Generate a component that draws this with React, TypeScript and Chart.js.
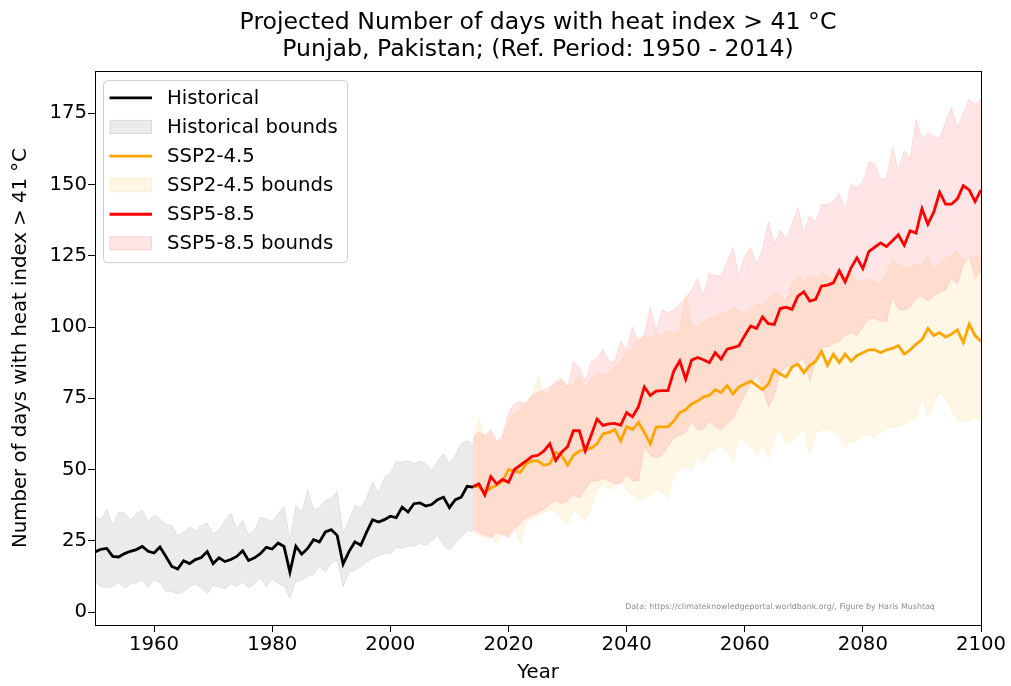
import React, { useEffect, useRef } from 'react';
import { Chart, registerables } from 'chart.js';

Chart.register(...registerables);

const FONT = '"DejaVu Sans", "Liberation Sans", sans-serif';

const TITLE = ['Projected Number of days with heat index > 41 °C', 'Punjab, Pakistan; (Ref. Period: 1950 - 2014)'];
const X_TITLE = 'Year';
const Y_TITLE = 'Number of days with heat index > 41 °C';
const X_TICKS = [1960, 1980, 2000, 2020, 2040, 2060, 2080, 2100];
const Y_TICKS = [0, 25, 50, 75, 100, 125, 150, 175];
const CREDIT = 'Data: https://climateknowledgeportal.worldbank.org/, Figure by Haris Mushtaq';

const HIST_START = 1950; // 1950 .. 2014
const FUT_START = 2014; // 2014 .. 2100

const HIST = [
  21.1, 22, 22.3, 19.5, 19.3, 20.5, 21.3, 21.9, 23, 21.3,
  20.7, 22.8, 19.5, 16, 15.1, 18, 17, 18.4, 19.1, 21.2,
  17, 19, 17.7, 18.4, 19.5, 21.5, 18.1, 19, 20.5, 22.7,
  22.1, 24.2, 23, 14, 23.1, 20.3, 22.3, 25.4, 24.6, 28.1,
  28.9, 26.9, 16.8, 21.2, 24.6, 23.4, 28.1, 32.4, 31.6, 32.4,
  33.6, 33.1, 36.8, 35.1, 38, 38.3, 37.2, 37.7, 39.4, 40.3,
  36.6, 39.4, 40.3, 44.1, 43.8,
];
const HIST_HI = [
  33.6, 32.4, 36.1, 30.4, 35, 34.7, 32.4, 34.5, 35.7, 31.9,
  33.9, 32.7, 30.8, 30.4, 26.9, 28, 29.8, 28.6, 30.4, 31.2,
  27.5, 28.9, 32.1, 34.7, 29.2, 32.1, 27.2, 28.6, 33.3, 32.7,
  31.9, 34.5, 37.1, 25.2, 37.4, 35.1, 42.7, 35.9, 36.6, 39.2,
  39.7, 42.4, 27.7, 32.2, 37.4, 36.6, 40.1, 45.6, 42, 47.1,
  48.7, 52.6, 52.6, 53, 52.2, 53, 52, 49.7, 53, 55.5,
  52, 55, 59.2, 60.1, 59,
];
const HIST_LO = [
  10.6, 8.9, 8.6, 8.9, 10.3, 8.3, 9.8, 10.3, 11.2, 8.6,
  11.4, 10.3, 7.2, 7.2, 6.3, 7.2, 8.9, 9.8, 8.6, 6.4,
  9.4, 8.9, 8, 9.8, 8.9, 10.6, 8.3, 10, 12.1, 8.9,
  11.7, 10, 9.1, 4.8, 10.6, 11.2, 12.4, 13.3, 15.9, 14.1,
  17.1, 18.2, 8.9, 14.1, 14.7, 15.9, 17.6, 18.8, 19.9, 20.5,
  20.5, 22.7, 22.3, 23.1, 23.1, 24, 23.4, 24.9, 26.9, 23.4,
  21.7, 24.2, 26.3, 28.6, 28.1,
];

const SSP245 = [
  44, 44, 42, 43.5, 44.5, 46, 50, 49.5, 49, 52,
  53, 53, 51.5, 52, 56, 55, 51.5, 55, 56.5, 57,
  57.5, 59, 62.5, 63, 64, 60, 65, 64, 66.5, 63,
  59, 65, 65, 65, 67, 70, 71, 73, 74, 75.5,
  76, 78, 77, 79.5, 76.5, 79, 80, 81, 79.5, 78,
  80, 85, 83.5, 82.5, 86, 87, 84, 86.5, 88, 91.5,
  86.5, 90.5, 87.5, 90.5, 88, 90, 91, 92, 92, 91,
  92, 92.5, 93.5, 90.5, 92, 94, 95.5, 99.5, 97, 98,
  96.5, 97.5, 99, 94.5, 101, 97, 95,
];
const SSP245_HI = [
  60, 68, 61, 63, 59, 61, 67, 70, 71, 74,
  76, 83, 76, 78, 80, 81, 79, 80, 83, 79,
  82, 84, 83, 84, 86, 88, 91, 93, 96, 97,
  96, 98, 97, 99, 98, 99, 112, 101, 100, 102,
  103, 104, 105, 105, 107, 106, 105, 106, 108, 108,
  110, 112, 111, 109, 115, 118, 116, 118, 117, 119,
  118, 117, 118, 118, 119, 116, 116, 117, 116, 115,
  119, 124, 122, 121, 121, 122, 122, 125, 120, 122,
  124, 125, 127, 123, 124, 125, 125,
];
const SSP245_LO = [
  28, 27, 26, 27, 24, 28, 27, 30, 24, 31,
  33, 34, 35, 36, 35, 33, 31, 36, 34, 32,
  37, 43, 45, 43, 44, 46, 43, 41, 39, 40,
  41, 43, 42, 40, 48, 50, 51, 50, 55, 52,
  56, 57, 58, 56, 53, 61, 60, 58, 55, 59,
  54, 61, 64, 59, 60, 62, 65, 55, 63, 64,
  64, 63, 62, 58, 60, 60, 62, 62, 61, 63,
  64, 65, 65, 66, 67, 68, 75, 69, 73, 77,
  75, 71, 67, 67, 67, 68, 68,
];

const SSP585 = [
  44, 45, 41, 47.5, 45, 46.5, 45.5, 50, 51.5, 53,
  54.6, 55, 56.5, 59, 53.2, 56.1, 58, 63.6, 63.6, 56.5,
  62, 67.7, 65.5, 66, 66.2, 65.5, 70, 68.5, 72, 79,
  76, 77.5, 77.7, 77.7, 84.6, 88.1, 81.7, 88.4, 89.3, 88.5,
  87.5, 91, 88.7, 92.2, 92.8, 93.4, 97, 100.4, 99.5, 103.5,
  101.2, 100.9, 106.5, 107, 106.2, 110.8, 112.4, 109.1, 109.7, 114.4,
  114.7, 115.5, 119.8, 115.8, 120.8, 124.3, 120.5, 126.5, 128, 129.5,
  128.3, 130.3, 132.4, 128.7, 133.8, 133, 141.5, 136.1, 140.3, 147.3,
  143.1, 143.1, 145, 149.6, 148.1, 144, 148.1,
];
const SSP585_HI = [
  61, 63, 62, 64, 60, 62, 70, 73, 74, 73,
  76, 77, 78, 79, 81, 82, 79, 88, 86, 81,
  88, 89, 92, 88, 88, 95, 92, 100, 95, 97,
  107, 99, 106, 105, 106, 108, 110, 113, 117, 111,
  119, 118, 118, 123, 128, 118, 125, 128, 122, 127,
  137, 129, 134, 131, 136, 142, 133, 139, 137, 143,
  143, 144, 147, 141, 150, 149, 151, 158, 157, 152,
  152, 163, 155, 162, 159, 173, 166, 168, 167, 166,
  172, 177, 170, 175, 180, 178, 180,
];
const SSP585_LO = [
  29, 28, 27, 26, 28, 27, 26, 29, 31, 33,
  34, 35, 36, 38, 39, 38, 39, 41, 40, 43,
  46, 46, 47, 46, 45, 45, 48, 46, 46, 58,
  55, 54, 55, 58, 61, 62, 63, 67, 64, 64,
  67, 65, 64, 66, 68, 72, 76, 80, 83, 79,
  72, 76, 84, 86, 87, 88, 89, 81, 88, 93,
  93, 94, 95, 97, 98, 97, 100, 103, 103, 102,
  102, 111, 106, 106, 107, 110, 111, 109, 111, 112,
  113, 117, 115, 122, 125, 117, 120,
];

const COLORS = {
  hist: '#000000',
  histBand: 'rgba(128,128,128,0.16)',
  ssp245: '#FFA500',
  ssp245Band: 'rgba(255,165,0,0.1)',
  ssp585: '#FF0000',
  ssp585Band: 'rgba(255,0,0,0.1)',
};

function series(start: number, values: number[]) {
  return values.map((y, i) => ({ x: start + i, y }));
}

const framePlugin = {
  id: 'axesFrame',
  afterDatasetsDraw(chart: any) {
    const { ctx, chartArea: a } = chart;
    ctx.save();
    ctx.strokeStyle = '#000';
    ctx.lineWidth = 1;
    ctx.strokeRect(Math.round(a.left) + 0.5, Math.round(a.top) + 0.5, Math.round(a.right - a.left), Math.round(a.bottom - a.top));
    ctx.restore();
  },
};

const creditPlugin = {
  id: 'credit',
  afterDatasetsDraw(chart: any) {
    const { ctx, chartArea: a } = chart;
    ctx.save();
    ctx.font = `7.9px ${FONT}`;
    ctx.fillStyle = 'rgba(120,120,120,0.85)';
    ctx.textAlign = 'center';
    ctx.textBaseline = 'middle';
    ctx.fillText(CREDIT, a.right - 201, a.bottom - 18);
    ctx.restore();
  },
};

const legendPlugin = {
  id: 'mplLegend',
  afterDatasetsDraw(chart: any) {
    const { ctx, chartArea: a } = chart;
    const items = chart.data.datasets
      .filter((d: any) => d.legendRank !== undefined)
      .sort((p: any, q: any) => p.legendRank - q.legendRank);
    const x0 = a.left + 8;
    const y0 = a.top + 9;
    const w = 244;
    const h = 182;
    ctx.save();
    ctx.beginPath();
    if (ctx.roundRect) ctx.roundRect(x0 + 0.5, y0 + 0.5, w, h, 4);
    else ctx.rect(x0 + 0.5, y0 + 0.5, w, h);
    ctx.fillStyle = 'rgba(255,255,255,0.8)';
    ctx.fill();
    ctx.strokeStyle = '#cccccc';
    ctx.lineWidth = 1;
    ctx.stroke();
    items.forEach((it: any, i: number) => {
      const cy = a.top + 26.7 + i * 29.1;
      const hx = a.left + 14.5;
      const hw = 42.5;
      if (it.legendKind === 'line') {
        ctx.beginPath();
        ctx.moveTo(hx, cy);
        ctx.lineTo(hx + hw, cy);
        ctx.strokeStyle = it.borderColor;
        ctx.lineWidth = 2.8;
        ctx.stroke();
      } else {
        ctx.fillStyle = it.backgroundColor;
        ctx.fillRect(hx, cy - 7, hw, 14);
        ctx.strokeStyle = it.borderColor;
        ctx.lineWidth = 1;
        ctx.strokeRect(hx + 0.5, cy - 6.5, hw - 1, 13);
      }
      ctx.fillStyle = '#000';
      ctx.font = `19.7px ${FONT}`;
      ctx.textBaseline = 'middle';
      ctx.textAlign = 'left';
      ctx.fillText(it.label, a.left + 72, cy + 1);
    });
    ctx.restore();
  },
};

function band(label: string, upper: number[], lower: number[], start: number, color: string, rank: number, order: number) {
  return [
    {
      label,
      legendRank: rank,
      legendKind: 'band',
      data: series(start, upper),
      borderColor: color,
      backgroundColor: color,
      borderWidth: 1,
      fill: '+1',
      order,
      pointRadius: 0,
    },
    {
      label: label + ' (lower)',
      data: series(start, lower),
      borderColor: color,
      backgroundColor: color,
      borderWidth: 1,
      fill: false,
      order,
      pointRadius: 0,
    },
  ];
}

function line(label: string, values: number[], start: number, color: string, rank: number, order: number) {
  return {
    label,
    legendRank: rank,
    legendKind: 'line',
    data: series(start, values),
    borderColor: color,
    backgroundColor: color,
    borderWidth: 2.8,
    fill: false,
    order,
    pointRadius: 0,
  };
}

export default function App() {
  const canvasRef = useRef<HTMLCanvasElement | null>(null);

  useEffect(() => {
    const canvas = canvasRef.current;
    if (!canvas) return;
    const datasets: any[] = [
      ...band('Historical bounds', HIST_HI, HIST_LO, HIST_START, COLORS.histBand, 1, 9),
      ...band('SSP2-4.5 bounds', SSP245_HI, SSP245_LO, FUT_START, COLORS.ssp245Band, 3, 8),
      ...band('SSP5-8.5 bounds', SSP585_HI, SSP585_LO, FUT_START, COLORS.ssp585Band, 5, 7),
      line('Historical', HIST, HIST_START, COLORS.hist, 0, 3),
      line('SSP2-4.5', SSP245, FUT_START, COLORS.ssp245, 2, 2),
      line('SSP5-8.5', SSP585, FUT_START, COLORS.ssp585, 4, 1),
    ];

    const tickFont = { family: FONT, size: 19.7 };
    const chart = new Chart(canvas, {
      type: 'line',
      data: { datasets },
      options: {
        animation: false,
        responsive: false,
        devicePixelRatio: 1,
        events: [],
        layout: { padding: { left: 0, right: 30, top: 0, bottom: 0 } },
        elements: { line: { tension: 0 }, point: { radius: 0, hoverRadius: 0 } },
        plugins: {
          legend: { display: false },
          tooltip: { enabled: false },
          title: {
            display: true,
            fullSize: false,
            text: TITLE,
            color: '#000',
            font: { family: FONT, size: 23.6, weight: 'normal', lineHeight: 1.13 },
            padding: { top: 10, bottom: 7.8 },
          },
        },
        scales: {
          x: {
            type: 'linear',
            min: 1950,
            max: 2100,
            afterBuildTicks: (scale: any) => {
              scale.ticks = X_TICKS.map((v) => ({ value: v }));
            },
            afterFit: (scale: any) => {
              scale.height = 61;
            },
            grid: { display: true, drawOnChartArea: false, drawTicks: true, tickLength: 7, tickWidth: 1, tickColor: '#000' },
            border: { display: false },
            ticks: {
              autoSkip: false,
              maxRotation: 0,
              padding: 1.5,
              color: '#000',
              font: tickFont,
              callback: (v: any) => String(v),
            },
            title: {
              display: true,
              text: X_TITLE,
              color: '#000',
              font: { family: FONT, size: 19.7 },
              padding: { top: 0, bottom: 1.2 },
            },
          },
          y: {
            type: 'linear',
            min: -4.56,
            max: 189.8,
            afterBuildTicks: (scale: any) => {
              scale.ticks = Y_TICKS.map((v) => ({ value: v }));
            },
            afterFit: (scale: any) => {
              scale.width = 95;
            },
            grid: { display: true, drawOnChartArea: false, drawTicks: true, tickLength: 7, tickWidth: 1, tickColor: '#000' },
            border: { display: false },
            ticks: {
              autoSkip: false,
              padding: 1,
              color: '#000',
              font: tickFont,
              callback: (v: any) => String(v),
            },
            title: {
              display: true,
              text: Y_TITLE,
              color: '#000',
              font: { family: FONT, size: 19.7 },
              padding: { top: 9.5, bottom: 0 },
            },
          },
        },
      } as any,
      plugins: [framePlugin, creditPlugin, legendPlugin],
    });
    return () => chart.destroy();
  }, []);

  return (
    <div style={{ position: 'absolute', left: 0, top: 0, width: 1011, height: 686, background: '#fff' }}>
      <canvas ref={canvasRef} width={1011} height={686} style={{ display: 'block', width: 1011, height: 686 }} />
    </div>
  );
}
